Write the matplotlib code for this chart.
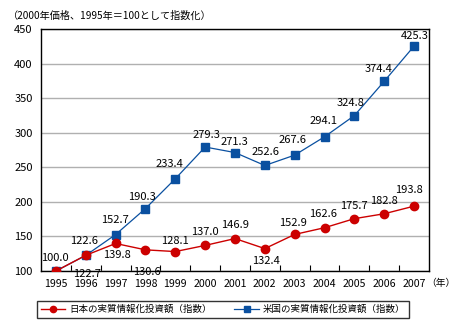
import matplotlib.pyplot as plt

plt.rcParams["font.family"] = ["Noto Sans CJK JP", "DejaVu Sans"]

years = ["1995", "1996", "1997", "1998", "1999", "2000", "2001",
         "2002", "2003", "2004", "2005", "2006", "2007"]
japan = [100.0, 122.7, 139.8, 130.6, 128.1, 137.0, 146.9,
         132.4, 152.9, 162.6, 175.7, 182.8, 193.8]
usa = [100.0, 122.6, 152.7, 190.3, 233.4, 279.3, 271.3,
       252.6, 267.6, 294.1, 324.8, 374.4, 425.3]

# label offsets in pixels (dx, dy); None = no label
japan_off = [(-1, 13), (1, -19), (1, -12), (1, -22), (0, 11), (0, 13), (0, 14),
             (1, -12), (-2, 11), (-1, 14), (0, 13), (0, 13), (-5, 16)]
usa_off = [None, (-2, 14), (-1, 15), (-4, 12), (-6, 15), (1, 12), (-1, 11),
           (1, 13), (-2, 15), (-1, 16), (-4, 13), (-6, 12), (1, 10)]

red = "#cc0000"
blue = "#0a50a0"
fs = 8.0

W, H = 461, 331
fig = plt.figure(figsize=(W / 100, H / 100), dpi=100)
ax = fig.add_axes([41 / W, (H - 271) / H, 388 / W, 242 / H])

x = list(range(len(years)))
ax.plot(x, usa, color=blue, lw=0.9, marker="s", ms=5.5, mec=blue, mfc=blue,
        label="米国の実質情報化投資額（指数）", zorder=3)
ax.plot(x, japan, color=red, lw=1.0, marker="o", ms=6, mec=red, mfc=red,
        label="日本の実質情報化投資額（指数）", zorder=4)

for xi, v, off in zip(x, japan, japan_off):
    ax.annotate(f"{v:.1f}", (xi, v), xytext=off, textcoords="offset pixels",
                ha="center", va="center", fontsize=fs, zorder=5)
for xi, v, off in zip(x, usa, usa_off):
    if off is None:
        continue
    ax.annotate(f"{v:.1f}", (xi, v), xytext=off, textcoords="offset pixels",
                ha="center", va="center", fontsize=fs, zorder=5)

ax.set_xlim(-0.5, len(years) - 0.5)
ax.set_ylim(100, 450)
ax.set_yticks(range(100, 451, 50))
ax.yaxis.grid(True, color="#b0b0b0", lw=1.0)
ax.set_axisbelow(True)
ax.set_xticks(x)
ax.set_xticklabels(years)
ax.set_xticks([i + 0.5 for i in x[:-1]], minor=True)
ax.tick_params(axis="x", which="major", length=0, pad=6, labelsize=7.6)
ax.tick_params(axis="x", which="minor", length=4, direction="in", width=0.8)
ax.tick_params(axis="y", length=0, pad=6, labelsize=fs)
for s in ax.spines.values():
    s.set_linewidth(1.0)
    s.set_color("black")

fig.text(8 / W, 1 - 16 / H, "（2000年価格、1995年＝100として指数化）",
         fontsize=7.3, va="center", ha="left")
fig.text(426 / W, 1 - 283 / H, "（年）", fontsize=7.0, va="center", ha="left")

handles, labels = ax.get_legend_handles_labels()
leg = fig.legend(handles[::-1], labels[::-1], loc="center",
                 bbox_to_anchor=(223 / W, 1 - 309.5 / H), ncol=2,
                 fontsize=6.8, frameon=True, fancybox=False,
                 edgecolor="black", handlelength=2.6, columnspacing=2.4,
                 borderpad=0.45, handletextpad=0.4)
leg.get_frame().set_linewidth(1.0)
for h in leg.legend_handles:
    h.set_markersize(4.5)

fig.savefig("out.png", dpi=100)
